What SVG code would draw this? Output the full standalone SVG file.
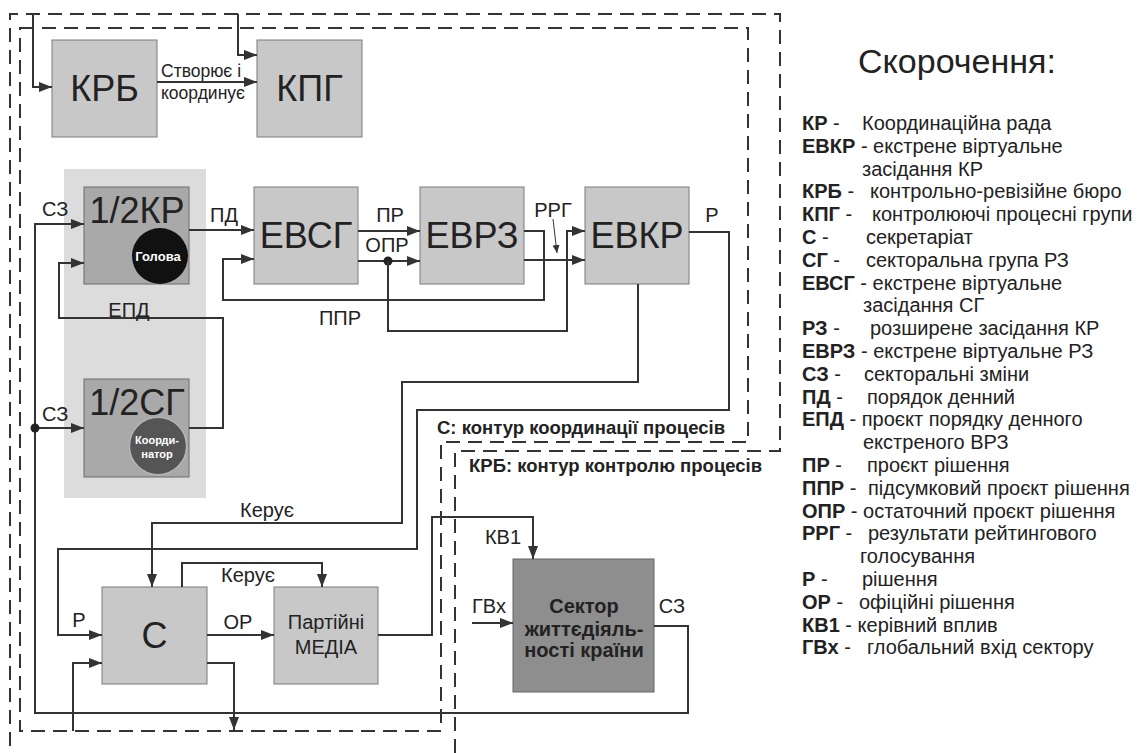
<svg xmlns="http://www.w3.org/2000/svg" width="1142" height="753" viewBox="0 0 1142 753">
<defs>
<style>
.box{fill:#c8c8c8;stroke:#7a7a7a;stroke-width:1}
.dbox{fill:#a9a9a9;stroke:#6a6a6a;stroke-width:1}
.big{font-family:"Liberation Sans",Arial,sans-serif;font-size:36px;fill:#222;text-anchor:middle}
.lbl{font-family:"Liberation Sans",Arial,sans-serif;font-size:20px;fill:#222}
.sm{font-family:"Liberation Sans",Arial,sans-serif;font-size:17.5px;fill:#222}
.ln{fill:none;stroke:#333;stroke-width:2}
.dash{fill:none;stroke:#333;stroke-width:2;stroke-dasharray:14 8}
.leg{font-family:"Liberation Sans",Arial,sans-serif;font-size:20px;fill:#222}
.b{font-weight:bold}
.ttl{font-family:"Liberation Sans",Arial,sans-serif;font-size:34px;fill:#222}
.ctr{font-family:"Liberation Sans",Arial,sans-serif;font-size:18.5px;font-weight:bold;fill:#222}
</style>
<marker id="ah" viewBox="0 0 13 10" refX="13" refY="5" markerWidth="13" markerHeight="10" markerUnits="userSpaceOnUse" orient="auto"><path d="M0,0 L13,5 L0,10 z" fill="#333"/></marker>
<marker id="ahs" viewBox="0 0 8 7" refX="8" refY="3.5" markerWidth="8" markerHeight="7" markerUnits="userSpaceOnUse" orient="auto"><path d="M0,0 L8,3.5 L0,7 z" fill="#333"/></marker>
</defs>
<rect width="1142" height="753" fill="#fff"/>

<g id="contours">
<path class="dash" d="M455,753 V451 H780 V14 H10 V753"/>
<path class="dash" d="M20,28 H748 V442 H441 V731 H20 Z"/>
<text class="ctr" x="437" y="434">С: контур координації процесів</text>
<text class="ctr" x="469" y="472">КРБ: контур контролю процесів</text>
</g>

<rect id="half-group" x="64" y="169" width="142" height="329" fill="#dcdcdc"/>

<g id="krb"><rect class="box" x="52" y="40" width="105" height="97"/><text class="big" x="104.5" y="101">КРБ</text></g>
<g id="kpg"><rect class="box" x="257" y="40" width="105" height="97"/><text class="big" x="309.5" y="101">КПГ</text></g>

<g id="half-kr"><rect class="dbox" x="84" y="187" width="105" height="97"/><text class="big" x="137" y="223">1/2КР</text>
<circle cx="160" cy="256" r="28" fill="#111"/><text x="158" y="261" font-family="Liberation Sans,Arial,sans-serif" font-size="13px" font-weight="bold" fill="#fff" text-anchor="middle">Голова</text></g>

<g id="half-sg"><rect class="dbox" x="84" y="379" width="105" height="98"/><text class="big" x="137" y="415">1/2СГ</text>
<circle cx="158" cy="446" r="28.5" fill="#555" stroke="#bbb" stroke-width="1.2"/><text x="157" y="444" font-family="Liberation Sans,Arial,sans-serif" font-size="11px" font-weight="bold" fill="#fff" text-anchor="middle">Коорди-</text><text x="157" y="458" font-family="Liberation Sans,Arial,sans-serif" font-size="11px" font-weight="bold" fill="#fff" text-anchor="middle">натор</text></g>

<g id="evsg"><rect class="box" x="254" y="187" width="104" height="97"/><text class="big" x="306" y="248">ЕВСГ</text></g>
<g id="evrz"><rect class="box" x="420" y="187" width="104" height="97"/><text class="big" x="472" y="248">ЕВРЗ</text></g>
<g id="evkr"><rect class="box" x="585" y="187" width="104" height="97"/><text class="big" x="637" y="248">ЕВКР</text></g>

<g id="s"><rect class="box" x="102" y="587" width="105" height="97"/><text class="big" x="154.5" y="648">С</text></g>
<g id="media"><rect class="box" x="274" y="587" width="104" height="97"/><text class="lbl" x="326" y="629" text-anchor="middle" font-size="21px">Партійні</text><text class="lbl" x="326" y="654" text-anchor="middle" font-size="21px">МЕДІА</text></g>

<g id="sector"><rect x="513" y="559" width="141" height="133" fill="#8e8e8e" stroke="#666" stroke-width="1"/>
<text x="584" y="613" font-family="Liberation Sans,Arial,sans-serif" font-size="20px" font-weight="bold" fill="#222" text-anchor="middle">Сектор</text>
<text x="584" y="636" font-family="Liberation Sans,Arial,sans-serif" font-size="20px" font-weight="bold" fill="#222" text-anchor="middle">життєдіяль-</text>
<text x="584" y="657" font-family="Liberation Sans,Arial,sans-serif" font-size="20px" font-weight="bold" fill="#222" text-anchor="middle">ності країни</text></g>

<g id="connectors">
<path class="ln" d="M33,14 V87 H52" marker-end="url(#ah)"/>
<path class="ln" d="M238,14 V55 H257" marker-end="url(#ah)"/>
<path class="ln" d="M157,82 H257" marker-end="url(#ah)"/>
<path class="ln" d="M654,626 H688 V713 H35 V224 H84" marker-end="url(#ah)"/>
<path class="ln" d="M35,428 H84" marker-end="url(#ah)"/>
<circle cx="35" cy="428" r="4.5" fill="#222"/>
<path class="ln" d="M189,428 H223 V318 H59 V263 H84" marker-end="url(#ah)"/>
<path class="ln" d="M189,230 H254" marker-end="url(#ah)"/>
<path class="ln" d="M358,231 H420" marker-end="url(#ah)"/>
<path class="ln" d="M358,261 H420" marker-end="url(#ah)"/>
<circle cx="388" cy="261" r="4.5" fill="#222"/>
<path class="ln" d="M388,261 V331 H567 V231 H585" marker-end="url(#ah)"/>
<path class="ln" d="M524,231 H544 V300 H223 V259 H254" marker-end="url(#ah)"/>
<path class="ln" d="M524,260 H585" marker-end="url(#ah)"/>
<path fill="none" stroke="#333" stroke-width="1" d="M553,219 L557,253" marker-end="url(#ahs)"/>
<path class="ln" d="M689,232 H729 V410 H417 V549 H58 V635 H102" marker-end="url(#ah)"/>
<path class="ln" d="M638,284 V382 H402 V523 H152 V587" marker-end="url(#ah)"/>
<path class="ln" d="M182,587 V563 H322 V587" marker-end="url(#ah)"/>
<path class="ln" d="M207,635 H274" marker-end="url(#ah)"/>
<path class="ln" d="M378,635 H432 V517 H533 V559" marker-end="url(#ah)"/>
<path class="ln" d="M472,623 H513" marker-end="url(#ah)"/>
<path class="ln" d="M73,731 V663 H102" marker-end="url(#ah)"/>
<path class="ln" d="M207,663 H234 V730" marker-end="url(#ah)"/>
</g>

<g id="edge-labels">
<text class="sm" x="161" y="77">Створює і</text>
<text class="sm" x="161" y="99">координує</text>
<text class="lbl" x="42" y="216">СЗ</text>
<text class="lbl" x="42" y="421">СЗ</text>
<text class="lbl" x="129" y="317" text-anchor="middle">ЕПД</text>
<text class="lbl" x="224" y="222" text-anchor="middle">ПД</text>
<text class="lbl" x="390" y="222" text-anchor="middle">ПР</text>
<text class="lbl" x="387" y="252" text-anchor="middle">ОПР</text>
<text class="lbl" x="340" y="325" text-anchor="middle">ППР</text>
<text class="lbl" x="553" y="217" text-anchor="middle">РРГ</text>
<text class="lbl" x="712" y="222" text-anchor="middle">Р</text>
<text class="lbl" x="267" y="517" text-anchor="middle">Керує</text>
<text class="lbl" x="248" y="582" text-anchor="middle">Керує</text>
<text class="lbl" x="79" y="627" text-anchor="middle">Р</text>
<text class="lbl" x="238" y="629" text-anchor="middle">ОР</text>
<text class="lbl" x="503" y="544" text-anchor="middle">КВ1</text>
<text class="lbl" x="489" y="613" text-anchor="middle">ГВх</text>
<text class="lbl" x="672" y="613" text-anchor="middle">СЗ</text>
</g>

<g id="legend">
<text class="ttl" x="858" y="73">Скорочення:</text>
<text class="leg" x="802" y="130"><tspan class="b">КР</tspan> -</text><text class="leg" x="862" y="130">Координаційна рада</text>
<text class="leg" x="802" y="152.8"><tspan class="b">ЕВКР</tspan> - екстрене віртуальне</text>
<text class="leg" x="862" y="175.6">засідання КР</text>
<text class="leg" x="802" y="198.4"><tspan class="b">КРБ</tspan> -</text><text class="leg" x="870" y="198.4">контрольно-ревізійне бюро</text>
<text class="leg" x="802" y="221.2"><tspan class="b">КПГ</tspan> -</text><text class="leg" x="872" y="221.2">контролюючі процесні групи</text>
<text class="leg" x="802" y="244"><tspan class="b">С</tspan> -</text><text class="leg" x="866" y="244">секретаріат</text>
<text class="leg" x="802" y="266.8"><tspan class="b">СГ</tspan> -</text><text class="leg" x="866" y="266.8">секторальна група РЗ</text>
<text class="leg" x="802" y="289.6"><tspan class="b">ЕВСГ</tspan> - екстрене віртуальне</text>
<text class="leg" x="863" y="312.4">засідання СГ</text>
<text class="leg" x="802" y="335.2"><tspan class="b">РЗ</tspan> -</text><text class="leg" x="870" y="335.2">розширене засідання КР</text>
<text class="leg" x="802" y="358"><tspan class="b">ЕВРЗ</tspan> - екстрене віртуальне РЗ</text>
<text class="leg" x="802" y="380.8"><tspan class="b">СЗ</tspan> -</text><text class="leg" x="864" y="380.8">секторальні зміни</text>
<text class="leg" x="802" y="403.6"><tspan class="b">ПД</tspan> -</text><text class="leg" x="867" y="403.6">порядок денний</text>
<text class="leg" x="802" y="426.4"><tspan class="b">ЕПД</tspan> - проєкт порядку денного</text>
<text class="leg" x="863" y="449.2">екстреного ВРЗ</text>
<text class="leg" x="802" y="472"><tspan class="b">ПР</tspan> -</text><text class="leg" x="867" y="472">проєкт рішення</text>
<text class="leg" x="802" y="494.8"><tspan class="b">ППР</tspan> -</text><text class="leg" x="868" y="494.8">підсумковий проєкт рішення</text>
<text class="leg" x="802" y="517.6"><tspan class="b">ОПР</tspan> - остаточний проєкт рішення</text>
<text class="leg" x="802" y="540.4"><tspan class="b">РРГ</tspan> -</text><text class="leg" x="868" y="540.4">результати рейтингового</text>
<text class="leg" x="860" y="563.2">голосування</text>
<text class="leg" x="802" y="586"><tspan class="b">Р</tspan> -</text><text class="leg" x="862" y="586">рішення</text>
<text class="leg" x="802" y="608.8"><tspan class="b">ОР</tspan> -</text><text class="leg" x="859" y="608.8">офіційні рішення</text>
<text class="leg" x="802" y="631.6"><tspan class="b">КВ1</tspan> - керівний вплив</text>
<text class="leg" x="802" y="654.4"><tspan class="b">ГВх</tspan> -</text><text class="leg" x="867" y="654.4">глобальний вхід сектору</text>
</g>
</svg>
